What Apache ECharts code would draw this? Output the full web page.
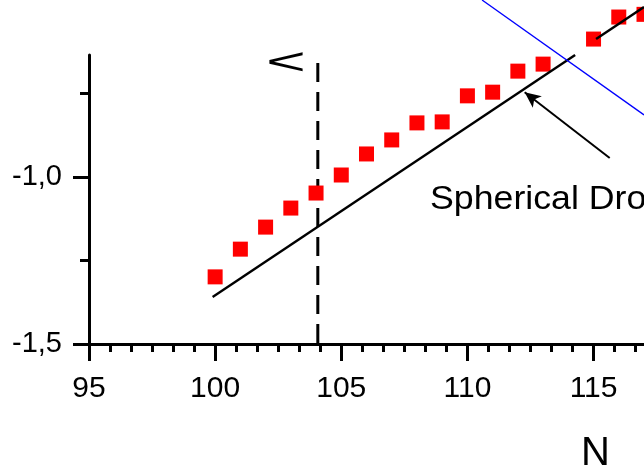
<!DOCTYPE html>
<html>
<head>
<meta charset="utf-8">
<script src="https://cdn.jsdelivr.net/npm/echarts@6/dist/echarts.min.js"></script>
<style>
html,body{margin:0;padding:0;background:#fff;}
#chart{width:644px;height:465px;}
</style>
</head>
<body>
<div id="chart"></div>
<script>
// ---- data ----
const nValues    = [100, 101, 102, 103, 104, 105, 106, 107, 108, 109, 110, 111, 112, 113, 115, 116, 117];
const dropValues = [-1.299, -1.216, -1.150, -1.093, -1.048, -0.994, -0.931, -0.889, -0.838, -0.835,
                    -0.757, -0.746, -0.683, -0.662, -0.587, -0.521, -0.513];
const fitLowX  = [99.9, 114.27];
const fitLowY  = [-1.359, -0.635];
const fitHighX = [115.1, 117.0];
const fitHighY = [-0.587, -0.491];
const blueX    = [110.58, 117.0];
const blueY    = [-0.470, -0.814];
const markerX  = [104.07, 104.07];
const markerY  = [-0.659, -1.5];
const arrowFrom = [115.64, -0.943];
const arrowTo   = [112.27, -0.746];
const xMajorTicks = [95, 100, 105, 110, 115];
const xMinorTicks = [];
for (let k = 0; k <= 26; k++) xMinorTicks.push(95 + k * 5 / 6);
const yMajorTicks = [-1.5, -1.0];
const yMinorTicks = [-1.25, -0.75];
const xMin = 95, xMax = 117, yMin = -1.5, yMax = -0.6347;
const labelText = 'Spherical Drop';
const xName = 'N';

const zip = (a, b) => a.map((v, i) => [v, b[i]]);
const FONT = "'Liberation Sans', Arial, sans-serif";

const chart = echarts.init(document.getElementById('chart'), null, {renderer: 'canvas'});
chart.setOption({
  animation: false,
  backgroundColor: '#fff',
  grid: {left: 89, right: 0, top: 55, bottom: 121, containLabel: false},
  xAxis: [
    {
      type: 'value', min: xMin, max: xMax, position: 'bottom', offset: 0,
      axisLine: {show: true, onZero: false, lineStyle: {color: '#000', width: 3}},
      axisTick: {show: true, customValues: xMajorTicks, length: 17, inside: false, lineStyle: {color: '#000', width: 3}},
      axisLabel: {show: true, customValues: xMajorTicks, margin: 30, color: '#000', fontSize: 30, fontFamily: FONT},
      splitLine: {show: false}
    },
    {
      type: 'value', min: xMin, max: xMax, position: 'bottom', offset: 0,
      axisLine: {show: false, onZero: false},
      axisTick: {show: true, customValues: xMinorTicks, length: 8, inside: false, lineStyle: {color: '#000', width: 3}},
      axisLabel: {show: false},
      splitLine: {show: false}
    }
  ],
  yAxis: [
    {
      type: 'value', min: yMin, max: yMax, position: 'left', offset: 0,
      axisLine: {show: true, onZero: false, lineStyle: {color: '#000', width: 3}},
      axisTick: {show: true, customValues: yMajorTicks, length: 16, inside: false, lineStyle: {color: '#000', width: 3}},
      axisLabel: {show: true, customValues: yMajorTicks, margin: 27, color: '#000', fontSize: 29, fontFamily: FONT,
        formatter: v => v.toFixed(1).replace('.', ',')},
      splitLine: {show: false}
    },
    {
      type: 'value', min: yMin, max: yMax, position: 'left', offset: 0,
      axisLine: {show: false, onZero: false},
      axisTick: {show: true, customValues: yMinorTicks, length: 9, inside: false, lineStyle: {color: '#000', width: 3}},
      axisLabel: {show: false},
      splitLine: {show: false}
    }
  ],
  series: [
    {
      type: 'line', data: zip(markerX, markerY), symbol: 'none', clip: false, z: 2,
      lineStyle: {color: '#000', width: 3, type: [19, 10]}
    },
    {
      type: 'line', data: zip(fitLowX, fitLowY), symbol: 'none', clip: false, z: 4,
      lineStyle: {color: '#000', width: 2.4}
    },
    {
      type: 'line', data: zip(fitHighX, fitHighY), symbol: 'none', clip: false, z: 4,
      lineStyle: {color: '#000', width: 2.4}
    },
    {
      type: 'line', data: zip(blueX, blueY), symbol: 'none', clip: false, z: 4,
      lineStyle: {color: '#0000ff', width: 1.3}
    },
    {
      type: 'scatter', data: zip(nValues, dropValues), symbol: 'rect', symbolSize: 15, clip: false, z: 3,
      itemStyle: {color: '#ff0000', opacity: 1}
    },
    {
      type: 'line', data: [], symbol: 'none', z: 4,
      markLine: {
        silent: true, symbol: ['none', 'arrow'], symbolSize: [11, 16],
        label: {show: false},
        lineStyle: {color: '#000', width: 2, type: 'solid'},
        data: [[{coord: arrowFrom}, {coord: arrowTo}]]
      }
    }
  ],
  graphic: [
    {type: 'text', x: 430, y: 183, scaleX: 1.05, z: 10,
     style: {text: labelText, font: '34px ' + FONT, fill: '#000', align: 'left', verticalAlign: 'top'}},
    {type: 'text', x: 581, y: 434, z: 10,
     style: {text: xName, font: '40px ' + FONT, fill: '#000', align: 'left', verticalAlign: 'top'}},
    {type: 'text', x: 286, y: 64, scaleX: 1.9, z: 10,
     style: {text: '<', font: '36px ' + FONT, fill: '#000', align: 'center', verticalAlign: 'middle'}}
  ]
});
</script>
</body>
</html>
